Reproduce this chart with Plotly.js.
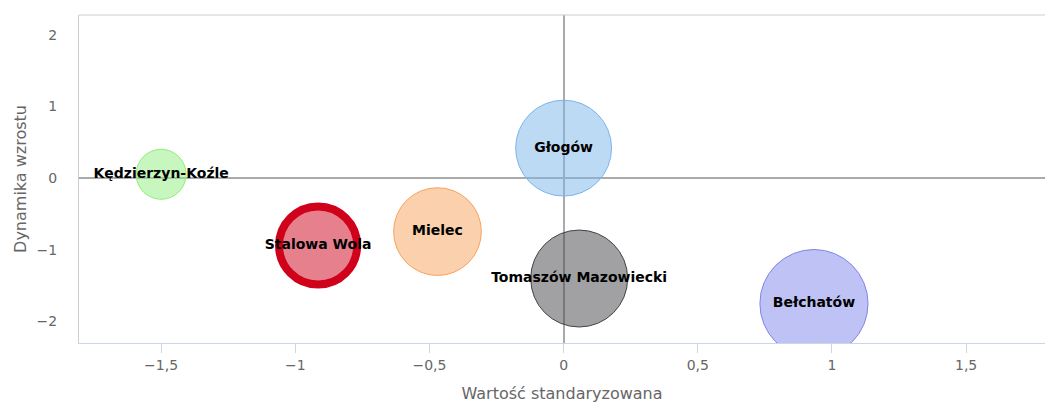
<!DOCTYPE html>
<html>
<head>
<meta charset="utf-8">
<script src="https://cdn.plot.ly/plotly-3.0.1.min.js"></script>
<style>html,body{margin:0;padding:0;background:#fff;}#chart{width:1045px;height:407px;}</style>
</head>
<body>
<div id="chart"></div>
<script>
// Data
var cities = ["Kędzierzyn-Koźle", "Stalowa Wola", "Mielec", "Głogów", "Tomaszów Mazowiecki", "Bełchatów"];
var standardizedValue = [-1.5, -0.915, -0.47, 0.0, 0.058, 0.933];
var growthDynamics = [0.055, -0.94, -0.745, 0.42, -1.40, -1.75];
var bubbleValue = [25, 61, 77, 92, 94, 117];

// Styles
var fillColors = ["rgba(144,237,125,0.5)", "rgba(208,2,27,0.5)", "rgba(247,163,92,0.5)", "rgba(124,181,236,0.5)", "rgba(67,67,72,0.5)", "rgba(128,133,233,0.5)"];
var lineColors = ["#90ed7d", "#d0021b", "#f7a35c", "#7cb5ec", "#434348", "#8085e9"];
var lineWidths = [1, 8, 1, 1, 1, 1];

var trace = {
  type: "scatter",
  mode: "markers+text",
  x: standardizedValue,
  y: growthDynamics,
  text: cities,
  textposition: "middle center",
  textfont: {family: "DejaVu Sans", size: 14, color: "#000", weight: "bold"},
  marker: {
    size: bubbleValue,
    sizemode: "area",
    sizeref: 0.02,
    color: fillColors,
    opacity: 1,
    line: {color: lineColors, width: lineWidths}
  },
  hoverinfo: "none",
  cliponaxis: true,
  showlegend: false
};

var layout = {
  width: 1045,
  height: 407,
  margin: {l: 79, r: 0, t: 15, b: 64},
  paper_bgcolor: "#fff",
  plot_bgcolor: "#fff",
  separators: ", ",
  font: {family: "DejaVu Sans", color: "#666"},
  xaxis: {
    range: [-1.806, 1.794],
    tickvals: [-1.5, -1, -0.5, 0, 0.5, 1, 1.5],
    showgrid: false,
    zeroline: true,
    zerolinecolor: "#aaa",
    zerolinewidth: 2,
    showline: true,
    linecolor: "#ccd6eb",
    linewidth: 1,
    ticks: "outside",
    ticklen: 9,
    tickcolor: "#ccd6eb",
    tickfont: {size: 14, color: "#666"},
    title: {text: "Wartość standaryzowana", font: {size: 16, color: "#666"}, standoff: 16}
  },
  yaxis: {
    range: [-2.30, 2.278],
    tickvals: [-2, -1, 0, 1, 2],
    showgrid: false,
    zeroline: true,
    zerolinecolor: "#aaa",
    zerolinewidth: 2,
    showline: true,
    linecolor: "#ccc",
    linewidth: 1,
    ticks: "outside",
    ticklen: 18,
    tickcolor: "rgba(0,0,0,0)",
    tickfont: {size: 14, color: "#666"},
    title: {text: "Dynamika wzrostu", font: {size: 16, color: "#666"}, standoff: 5}
  },
  shapes: [{
    type: "line", xref: "paper", yref: "paper", x0: 0, x1: 1, y0: 1, y1: 1,
    line: {color: "#ccc", width: 1}
  }]
};

Plotly.newPlot("chart", [trace], layout, {displayModeBar: false, staticPlot: true});
</script>
</body>
</html>
